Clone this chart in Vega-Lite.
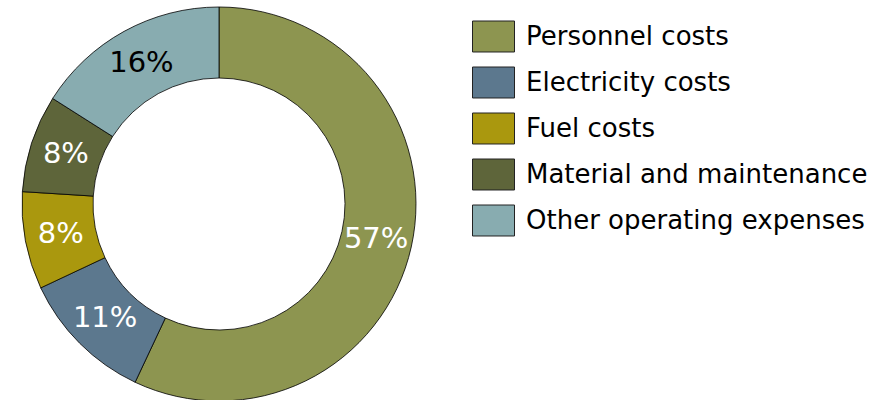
{
  "$schema": "https://vega.github.io/schema/vega-lite/v6.json",
  "width": 438,
  "height": 408,
  "padding": 0,
  "background": "white",
  "config": {"view": {"stroke": null}, "font": "DejaVu Sans"},
  "data": {"values": [
    {"category": "Personnel costs", "share": 57, "label": "57%", "order": 1},
    {"category": "Electricity costs", "share": 11, "label": "11%", "order": 2},
    {"category": "Fuel costs", "share": 8, "label": "8%", "order": 3},
    {"category": "Material and maintenance", "share": 8, "label": "8%", "order": 4},
    {"category": "Other operating expenses", "share": 16, "label": "16%", "order": 5}
  ]},
  "encoding": {
    "theta": {"field": "share", "type": "quantitative", "stack": true},
    "order": {"field": "order", "type": "quantitative"},
    "color": {
      "field": "category", "type": "nominal",
      "sort": ["Personnel costs", "Electricity costs", "Fuel costs", "Material and maintenance", "Other operating expenses"],
      "scale": {
        "domain": ["Personnel costs", "Electricity costs", "Fuel costs", "Material and maintenance", "Other operating expenses"],
        "range": ["#8D9550", "#5C788E", "#AA980E", "#5E653A", "#88ACB0"]
      },
      "legend": {
        "title": null,
        "orient": "none",
        "legendX": 472,
        "legendY": 15,
        "padding": 0,
        "symbolType": "M-1,-0.738H1V0.738H-1Z",
        "symbolSize": 1764,
        "symbolStrokeColor": "#222222",
        "symbolStrokeWidth": 1,
        "symbolOpacity": 1,
        "symbolFillColor": null,
        "labelFontSize": 26,
        "labelFont": "DejaVu Sans",
        "labelColor": "black",
        "labelOffset": 11,
        "rowPadding": 7,
        "labelLimit": 500
      }
    }
  },
  "layer": [
    {
      "mark": {"type": "arc", "outerRadius": 197, "innerRadius": 126, "stroke": "black", "strokeWidth": 0.8}
    },
    {
      "mark": {"type": "text", "radius": 161, "fontSize": 29, "align": "center", "baseline": "middle"},
      "encoding": {
        "text": {"field": "label"},
        "color": {
          "condition": {"test": "datum.order == 5", "value": "black"},
          "value": "white"
        }
      }
    }
  ]
}
